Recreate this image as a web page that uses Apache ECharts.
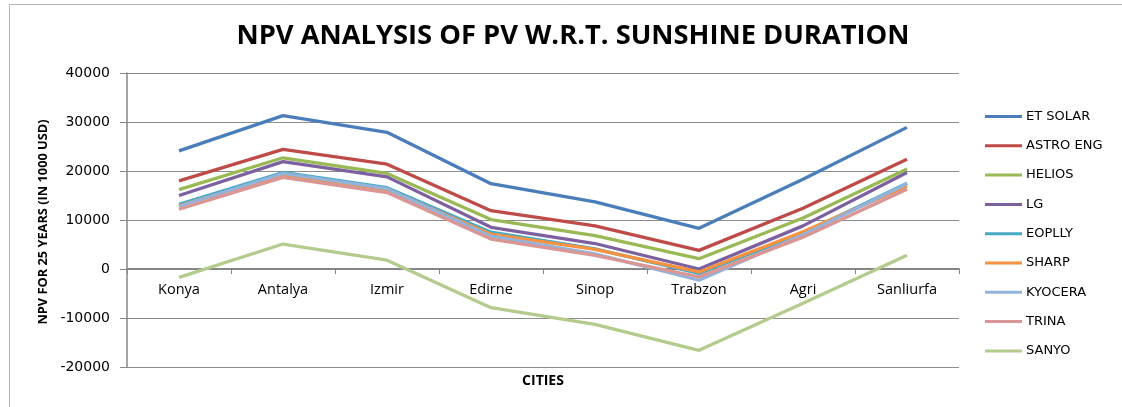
<!DOCTYPE html>
<html>
<head>
<meta charset="utf-8">
<script src="https://cdn.jsdelivr.net/npm/echarts@6/dist/echarts.min.js"></script>
<style>
html,body{margin:0;padding:0;background:#fff;}
#c{width:1122px;height:407px;}
</style>
</head>
<body>
<div id="c"></div>
<script>
const titleText = 'NPV ANALYSIS OF PV W.R.T. SUNSHINE DURATION';
const yAxisTitle = 'NPV FOR 25 YEARS (IN 1000 USD)';
const xAxisTitle = 'CITIES';
const cities = ['Konya','Antalya','Izmir','Edirne','Sinop','Trabzon','Agri','Sanliurfa'];
const seriesNames = ['ET SOLAR','ASTRO ENG','HELIOS','LG','EOPLLY','SHARP','KYOCERA','TRINA','SANYO'];
const etSolar  = [24100, 31300, 27900, 17400, 13700, 8300, 18300, 28900];
const astroEng = [18000, 24400, 21400, 11900, 8800, 3800, 12400, 22400];
const helios   = [16200, 22700, 19500, 10100, 6800, 2100, 10400, 20400];
const lg       = [15000, 21900, 18800, 8500, 5200, 0, 8800, 19700];
const eoplly   = [13200, 19700, 16600, 7500, 4100, -900, 7300, 17500];
const sharp    = [12900, 19200, 16200, 7100, 4000, -600, 7600, 16900];
const kyocera  = [12800, 19500, 16400, 6700, 3100, -2300, 7000, 17400];
const trina    = [12200, 18700, 15600, 6100, 2800, -1600, 6500, 16300];
const sanyo    = [-1700, 5100, 1800, -7900, -11300, -16600, -7000, 2800];
const yTicks = {min: -20000, max: 40000, interval: 10000};
const colors = ['#4A7EBB','#BE4B48','#98B954','#7D60A0','#46AAC5','#F69240','#94B3DB','#D99694','#B3CC8E'];

const allData = [etSolar, astroEng, helios, lg, eoplly, sharp, kyocera, trina, sanyo];

// layout
const gridTop = 73, gridBottom = 40, H = 407;
const plotH = H - gridTop - gridBottom;
// move category axis up to the zero line (axis crosses at 0)
const zeroOffset = -plotH * (0 - yTicks.min) / (yTicks.max - yTicks.min);

const chart = echarts.init(document.getElementById('c'), null, {renderer: 'canvas'});
const font = 'Open Sans';
chart.setOption({
  animation: false,
  color: colors,
  title: {
    text: titleText, left: 568, top: 18, textAlign: 'center',
    textStyle: {fontFamily: font, fontWeight: 'bold', fontSize: 27.3, color: '#000'}
  },
  grid: {left: 127, right: 163, top: gridTop, bottom: gridBottom, containLabel: false},
  legend: {
    orient: 'vertical', left: 985, top: 110, padding: 0,
    icon: 'rect', itemWidth: 37, itemHeight: 3, itemGap: 16.3,
    textStyle: {fontFamily: 'DejaVu Sans', fontSize: 13, color: '#000', padding: [0,0,0,-1]},
    data: seriesNames
  },
  xAxis: {
    type: 'category', data: cities, boundaryGap: true, position: 'bottom',
    offset: zeroOffset,
    axisLine: {onZero: false, lineStyle: {color: '#868686', width: 2}},
    axisTick: {show: true, inside: false, length: 5, lineStyle: {color: '#868686'}},
    axisLabel: {fontFamily: font, fontSize: 14.5, color: '#000', margin: 13},
    splitLine: {show: false}
  },
  yAxis: {
    type: 'value', min: yTicks.min, max: yTicks.max, interval: yTicks.interval,
    axisLine: {show: true, lineStyle: {color: '#868686', width: 1.5}},
    axisTick: {show: true, length: 7, lineStyle: {color: '#868686'}},
    axisLabel: {fontFamily: 'DejaVu Sans', fontSize: 14, color: '#000', margin: 17,
      formatter: v => String(v)},
    splitLine: {show: true, lineStyle: {color: '#8c8c8c', width: 1.2}}
  },
  graphic: [
    {type: 'rect', shape: {x: 9.5, y: 4.5, width: 1200, height: 500}, style: {fill: null, stroke: '#b4b4b4', lineWidth: 1}, silent: true, z: -1},
    {type: 'text', x: 43, y: 222, rotation: Math.PI/2, style: {text: yAxisTitle, fontFamily: font, fontWeight: 'bold', fontSize: 12.8, fill: '#000', align: 'center', verticalAlign: 'middle'}},
    {type: 'text', x: 543, y: 381, style: {text: xAxisTitle, fontFamily: font, fontWeight: 'bold', fontSize: 14, fill: '#000', align: 'center', verticalAlign: 'middle'}}
  ],
  series: seriesNames.map((n, i) => ({
    name: n, type: 'line', data: allData[i], symbol: 'none', showSymbol: false,
    lineStyle: {width: 3.3, color: colors[i]}, itemStyle: {color: colors[i]}
  }))
});
</script>
</body>
</html>
